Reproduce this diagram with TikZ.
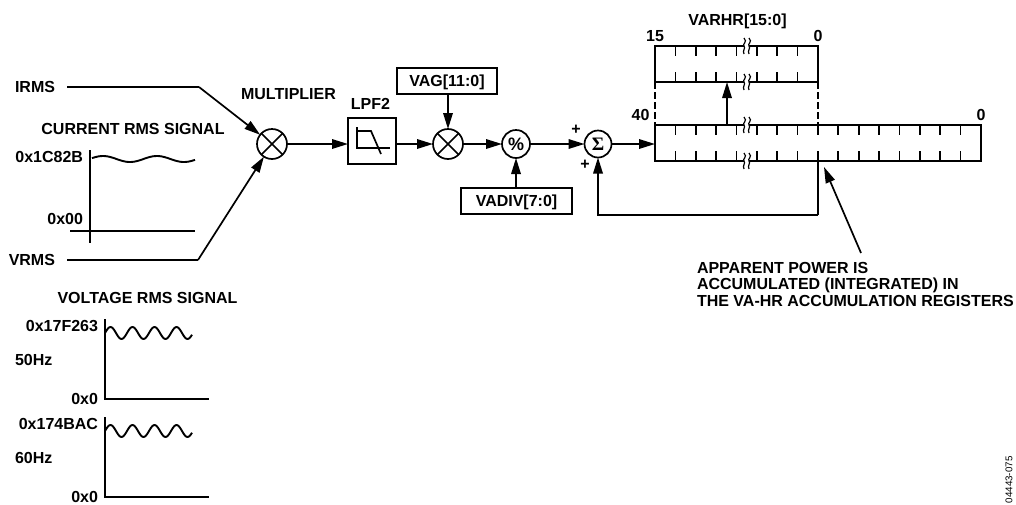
\documentclass[tikz,border=0pt]{standalone}
\usepackage{fontspec}
\setmainfont{Liberation Sans}
\newfontfamily\sigmafont{Liberation Serif}
\usetikzlibrary{arrows.meta,positioning,calc}
\tikzset{
  >={Stealth[length=16pt,width=9.5pt,inset=0pt]},
  flow/.style={->,line width=1.7pt},
  wire/.style={line width=1.7pt},
  lbl/.style={inner sep=0pt,outer sep=0pt,font=\fontsize{16}{16}\selectfont\bfseries,text height=11.4pt,text depth=0pt},
  valbox/.style={draw,line width=1.7pt,inner sep=0pt,outer sep=0pt,font=\fontsize{16}{16}\selectfont\bfseries,text height=11.4pt,text depth=0pt},
  reg/.style={draw,line width=1.7pt,inner sep=0pt,outer sep=0pt},
  op/.style={circle,draw,line width=1.7pt,inner sep=0pt,outer sep=0pt,minimum size=#1},
  mult/.style={op=30pt,path picture={
    \draw[line width=1.7pt] (path picture bounding box.north west) -- (path picture bounding box.south east)
      (path picture bounding box.north east) -- (path picture bounding box.south west);}},
  wave/.style={line width=1.9pt,smooth},
  pics/brk/.style={code={
    \fill[white] (-3,-8) .. controls (1,-4) and (-5,-2) .. (-3,0) .. controls (-1,2) and (-5,5) .. (-3,8)
      -- (2,8) .. controls (0,5) and (4,2) .. (2,0) .. controls (0,-2) and (6,-4) .. (2,-8) -- cycle;
    \draw[line width=1.2pt] (-3,-8) .. controls (1,-4) and (-5,-2) .. (-3,0) .. controls (-1,2) and (-5,5) .. (-3,8);
    \draw[line width=1.2pt] (2,-8) .. controls (6,-4) and (0,-2) .. (2,0) .. controls (4,2) and (0,5) .. (2,8);
  }},
}
\begin{document}
\begin{tikzpicture}[x=1pt,y=-1pt]
  \useasboundingbox (0,0) rectangle (1016,504);
  % inputs
  \node[lbl,anchor=east] (irms) at (55,87) {IRMS};
  \node[lbl,anchor=east] (vrms) at (55,260) {VRMS};
  \coordinate (irmsbend) at (199,87);
  \coordinate (vrmsbend) at (198,260);
  % signal chain
  \node[mult] (mula) at (272,144) {};
  \node[reg,minimum width=48pt,minimum height=46pt] (lpf) at (372,141) {};
  \node[mult] (mulb) at (448,144) {};
  \node[op=28pt,font=\fontsize{18}{18}\selectfont\bfseries] (pct) at (516,144) {\%};
  \node[op=27pt,font=\fontsize{19}{19}\sigmafont\bfseries] (sig) at (598,144) {Σ};
  \node[valbox,minimum width=100pt,minimum height=26pt] (vag) at (447,81) {VAG[11:0]};
  \node[valbox,minimum width=111pt,minimum height=26pt] (vadiv) at (516.5,201) {VADIV[7:0]};
  \node[lbl] (multlbl) at (288.5,94) {MULTIPLIER};
  \node[lbl] (lpflbl) at (370.5,104) {LPF2};
  \node[lbl] (plusa) at (576,129) {+};
  \node[lbl] (plusb) at (585,164) {+};
  % filter sketch
  \draw[wire] (357,127) -- (357,148) -- (390,148);
  \draw[wire] (357,131) -- (371,131) -- (381,154);
  % registers
  \node[reg,anchor=north west,minimum width=163pt,minimum height=36pt] (regvar) at (655,46) {};
  \node[reg,anchor=north west,minimum width=326pt,minimum height=36pt] (regacc) at (655,125) {};
  \foreach \i in {1,...,7}
    \draw[wire] ({655+\i*20.37},46) -- +(0,10) ({655+\i*20.37},72) -- +(0,10);
  \foreach \i in {1,...,15}
    \draw[wire] ({655+\i*20.37},125) -- +(0,10) ({655+\i*20.37},151) -- +(0,10);
  \foreach \y in {46,82,125,161}
    \pic at (747,\y) {brk};
  \draw[wire,dash pattern=on 7pt off 3pt] (regvar.south west) -- (regacc.north west);
  \draw[wire,dash pattern=on 7pt off 3pt] (regvar.south east) -- (regvar.south east |- regacc.north);
  \node[lbl] (varhr) at (737.5,20) {VARHR[15:0]};
  \node[lbl] (bita) at (655,36) {15};
  \node[lbl] (bitb) at (818,36) {0};
  \node[lbl] (bitc) at (640.5,115) {40};
  \node[lbl] (bitd) at (981,115) {0};
  \coordinate (xfera) at (727,125);
  \coordinate (xferb) at (727,82);
  \coordinate (fba) at (818,161);
  \coordinate (fbb) at (818,215);
  \coordinate (notea) at (861,253);
  \coordinate (noteb) at (824,167);
  \node[lbl,anchor=north west,align=left,text height=,text depth=,font=\fontsize{16}{16.5}\selectfont\bfseries] (note) at (697,262)
    {APPARENT POWER IS\\ACCUMULATED (INTEGRATED) IN\\THE VA-HR ACCUMULATION REGISTERS};
  % connectors
  \draw[wire] ([xshift=12pt]irms.east) -- (irmsbend);
  \draw[wire] ([xshift=12pt]vrms.east) -- (vrmsbend);
  \draw[flow] (irmsbend) -- (mula);
  \draw[flow] (vrmsbend) -- (mula);
  \draw[flow] (mula) -- (lpf.west |- mula);
  \draw[flow] (lpf.east |- mulb) -- (mulb);
  \draw[flow] (mulb) -- (pct);
  \draw[flow] (pct) -- (sig);
  \draw[flow] (sig) -- (sig -| regacc.west);
  \draw[flow] (vag.south -| mulb) -- (mulb);
  \draw[flow] (vadiv.north -| pct) -- (pct);
  \draw[flow] (xfera) -- (xferb);
  \draw[wire] (fba) -- (fbb);
  \draw[flow] (fbb) -| (sig);
  \draw[flow] (notea) -- (noteb);
  % current signal
  \node[lbl] (curlbl) at (133,129) {CURRENT RMS SIGNAL};
  \node[lbl,anchor=east] (curtop) at (83,157) {0x1C82B};
  \node[lbl,anchor=east] (curzero) at (83,219) {0x00};
  \draw[wire] (90,150) -- (90,243);
  \draw[wire] (70,231) -- (195,231);
  \draw[wave] plot[domain=92:195,samples=60] (\x,{159-3*sin((\x-103)*6.67+90)});
  % voltage signals
  \node[lbl] (vollbl) at (147.5,298) {VOLTAGE RMS SIGNAL};
  \foreach \t/\f/\a/\b in {319/50Hz/0x17F263/a,417/60Hz/0x174BAC/b}
  {
    \node[lbl,anchor=east] (vtop\b) at (98,\t+7) {\a};
    \node[lbl,anchor=west] (vfreq\b) at (15,\t+41) {\f};
    \node[lbl,anchor=east] (vzero\b) at (98,\t+80) {0x0};
    \draw[wire] (105,\t) -- (105,\t+80) -- (209,\t+80);
    \draw[wave] plot[domain=105:192,samples=80] (\x,{\t+14-6*sin((\x-105)*16.36)});
  }
  \node[inner sep=0pt,rotate=90,anchor=west,font=\fontsize{9.8}{10}\selectfont] (partno) at (1009,503.5) {04443-075};
\end{tikzpicture}
\end{document}
